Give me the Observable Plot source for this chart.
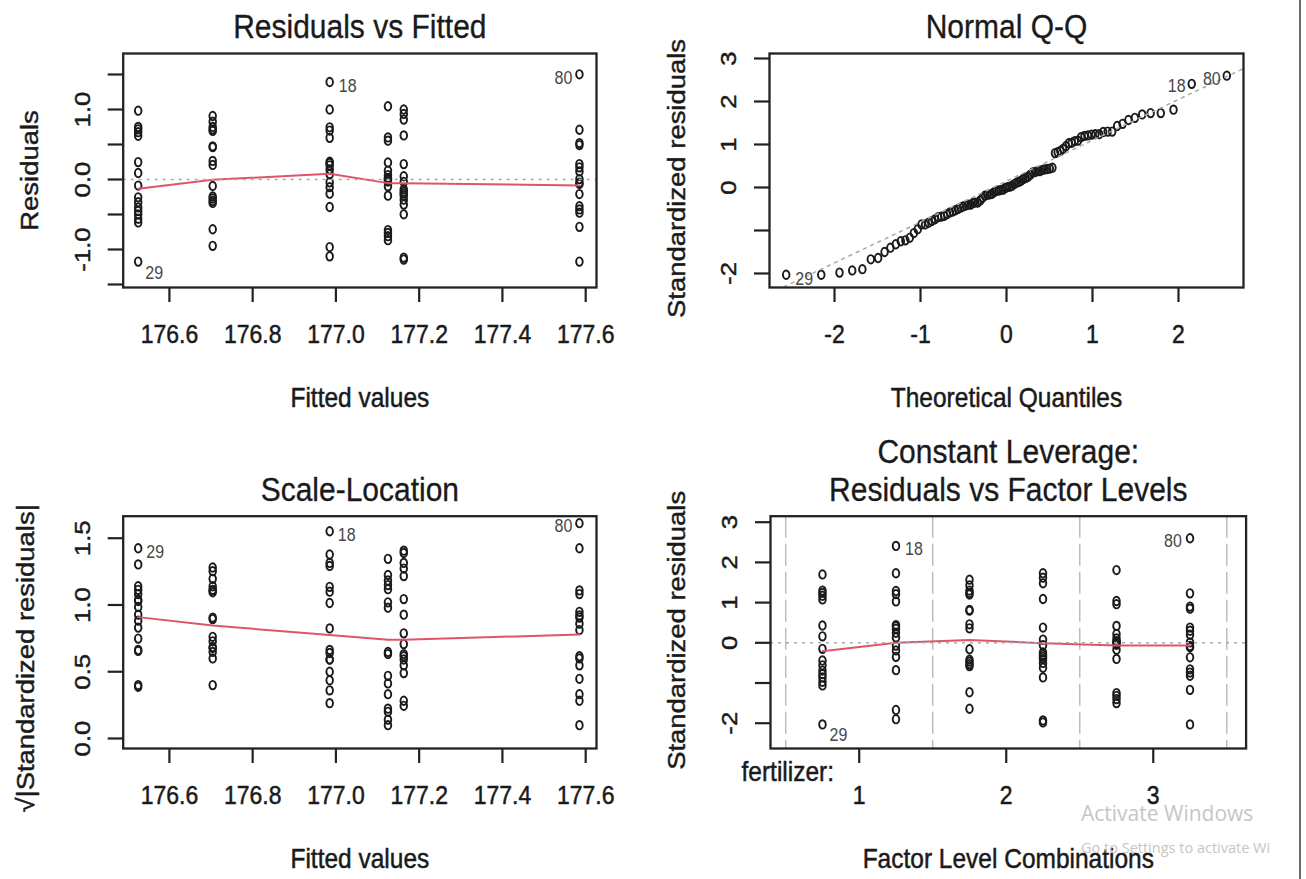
<!DOCTYPE html>
<html>
<head>
<meta charset="utf-8">
<script src="https://cdn.jsdelivr.net/npm/d3@7"></script>
<script src="https://cdn.jsdelivr.net/npm/@observablehq/plot@0.6"></script>
<style>
  html, body { margin: 0; padding: 0; background: #fff; }
  #root { position: relative; width: 1306px; height: 879px; overflow: hidden; background: #fff;
          font-family: "Liberation Sans", Arial, Helvetica, sans-serif; }
  .panel { position: absolute; }
  .panel svg { max-width: none !important; }
  .wm1 { position: absolute; left: 1081px; top: 799px; font-family: "Open Sans", "Noto Sans", sans-serif;
         font-size: 21px; color: #c6c6c6; white-space: nowrap; }
  .wm2 { position: absolute; left: 1081px; top: 838px; font-family: "Open Sans", "Noto Sans", sans-serif;
         font-size: 14.5px; color: #c6c6c6; white-space: nowrap; }
  .edge { position: absolute; left: 1299px; top: 0; width: 2px; height: 879px; background: #6a6a6a; }
</style>
</head>
<body>
<div id="root"></div>
<script>
// ---------------- data ----------------
// factor level combinations, in plotting order: fertilizer 1..3 x two density levels
const fertilizerLevels = ["1", "2", "3"];
const comboIndex = [0, 1, 2, 3, 4, 5];
const comboFitted = [176.525, 176.985, 176.704, 177.163, 177.125, 177.585];

// standardized residuals for each combination (16 observations each)
const stdResid1 = [1.70, 1.30, 1.24, 1.17, 1.08, 0.43, 0.16, -0.15, -0.44, -0.56, -0.69, -0.78, -0.86, -0.97, -1.06, -2.03];
const stdResid2 = [2.41, 1.73, 1.29, 1.21, 1.03, 0.44, 0.41, 0.35, 0.25, 0.13, -0.07, -0.19, -0.35, -0.68, -1.67, -1.90];
const stdResid3 = [1.57, 1.43, 1.30, 1.24, 1.20, 0.82, 0.80, 0.46, 0.36, -0.16, -0.42, -0.47, -0.53, -0.58, -1.23, -1.64];
const stdResid4 = [1.73, 1.62, 1.48, 1.09, 0.38, 0.08, -0.06, -0.24, -0.30, -0.35, -0.40, -0.50, -0.62, -0.86, -1.93, -1.98];
const stdResid5 = [1.81, 1.04, 0.96, 0.42, 0.22, 0.11, 0.04, 0.02, -0.01, -0.05, -0.17, -0.40, -1.25, -1.32, -1.40, -1.50];
const stdResid6 = [2.60, 1.23, 0.90, 0.85, 0.38, 0.30, 0.20, -0.08, 0.01, -0.11, -0.36, -0.66, -0.74, -0.82, -1.17, -2.03];

// raw residual per unit of standardized residual (constant leverage)
const residPerStd = 0.578;

// labelled observations
const idNames = ["29", "18", "80"];
const idCombo = [0, 1, 5];
const idStd = [-2.03, 2.41, 2.60];

// red smoothers
const smoothFitted = [176.525, 176.704, 176.985, 177.125, 177.163, 177.585];
const smoothResid = [-0.133, -0.005, 0.081, -0.052, -0.052, -0.086];
const smoothSqrt = [0.909, 0.846, 0.775, 0.739, 0.739, 0.779];
const smoothLevel = [-0.21, 0.0, 0.07, -0.01, -0.07, -0.07];

// normal Q-Q: theoretical quantiles and reference line
const qqTheoretical = [-2.562, -2.154, -1.942, -1.794, -1.676, -1.578, -1.493, -1.418, -1.350, -1.287, -1.229, -1.176,
  -1.125, -1.077, -1.032, -0.988, -0.947, -0.907, -0.868, -0.831, -0.794, -0.759, -0.725, -0.691, -0.658, -0.626,
  -0.595, -0.564, -0.534, -0.504, -0.474, -0.445, -0.417, -0.389, -0.361, -0.333, -0.305, -0.278, -0.251, -0.224,
  -0.197, -0.171, -0.144, -0.118, -0.092, -0.065, -0.039, -0.013, 0.013, 0.039, 0.065, 0.092, 0.118, 0.144, 0.171,
  0.197, 0.224, 0.251, 0.278, 0.305, 0.333, 0.361, 0.389, 0.417, 0.445, 0.474, 0.504, 0.534, 0.564, 0.595, 0.626,
  0.658, 0.691, 0.725, 0.759, 0.794, 0.831, 0.868, 0.907, 0.947, 0.988, 1.032, 1.077, 1.125, 1.176, 1.229, 1.287,
  1.350, 1.418, 1.493, 1.578, 1.676, 1.794, 1.942, 2.154, 2.562];
const qqLineIntercept = 0.147;
const qqLineSlope = 0.95;

// axes
const fittedTicks = [176.6, 176.8, 177.0, 177.2, 177.4, 177.6];
const fittedDomain = [176.489, 177.626];
const residTicks = [-1.5, -1.0, -0.5, 0, 0.5, 1.0, 1.5];
const residTickLabels = [-1.0, 0.0, 1.0];
const residDomain = [-1.543, 1.80];
const quantTicks = [-2, -1, 0, 1, 2];
const quantDomain = [-2.756, 2.756];
const stdTicks = [-2, -1, 0, 1, 2, 3];
const stdTickLabels = [-2, 0, 1, 2, 3];
const qqStdDomain = [-2.326, 3.116];
const sqrtTicks = [0, 0.5, 1.0, 1.5];
const sqrtDomain = [-0.075, 1.665];
const levelTicks = [0.5, 2.5, 4.5];
const levelSeparators = [-0.5, 1.5, 3.5, 5.5];
const levelDomain = [-0.707, 5.763];
const levelStdDomain = [-2.629, 3.149];

// ---------------- derived tables ----------------
const stdGroups = [stdResid1, stdResid2, stdResid3, stdResid4, stdResid5, stdResid6];
const obs = stdGroups.flatMap((g, k) => g.map(s => ({
  combo: comboIndex[k], fitted: comboFitted[k], std: s,
  resid: s * residPerStd, rootStd: Math.sqrt(Math.abs(s))
})));
const qqSample = stdGroups.flat().slice().sort(d3.ascending);
const qqRows = qqTheoretical.map((q, i) => ({q, s: qqSample[i]}));
const qqLine = quantDomain.map(q => ({q, s: qqLineIntercept + qqLineSlope * q}));
const ids = idNames.map((name, i) => ({
  name, combo: idCombo[i], fitted: comboFitted[idCombo[i]], std: idStd[i],
  resid: idStd[i] * residPerStd, rootStd: Math.sqrt(Math.abs(idStd[i])),
  q: qqTheoretical[qqSample.indexOf(idStd[i])]
}));
const smooth1 = smoothFitted.map((x, i) => ({x, y: smoothResid[i]}));
const smooth3 = smoothFitted.map((x, i) => ({x, y: smoothSqrt[i]}));
const smooth4 = comboIndex.map((x, i) => ({x, y: smoothLevel[i]}));

// ---------------- styling ----------------
const FONT = '"Liberation Sans", Arial, Helvetica, sans-serif';
const INK = "#1a1a1a", BOX = "#222", RED = "#DF536B", GRAY = "#aaaaaa", IDC = "#474747";
const ellipse = {
  draw(context, size) {
    const r = Math.sqrt(size / Math.PI);
    const rx = r * 0.82, ry = r * 1.05, k = 0.5523;
    context.moveTo(rx, 0);
    context.bezierCurveTo(rx, k * ry, k * rx, ry, 0, ry);
    context.bezierCurveTo(-k * rx, ry, -rx, k * ry, -rx, 0);
    context.bezierCurveTo(-rx, -k * ry, -k * rx, -ry, 0, -ry);
    context.bezierCurveTo(k * rx, -ry, rx, -k * ry, rx, 0);
    context.closePath();
  }
};
const dotOpts = {symbol: ellipse, r: 4.0, fill: "none", stroke: INK, strokeWidth: 1.9};
const C = {textAnchor: "middle", lineAnchor: "middle", fill: INK, stroke: INK, strokeWidth: 0.45};

function idMarks(xKey, yKey, offsets) {
  return ids.map((d, i) => Plot.text([d], {
    x: xKey, y: yKey, text: "name", dx: offsets[i][0], dy: offsets[i][1],
    fontSize: 16, fill: IDC, textAnchor: "middle", lineAnchor: "middle"
  }));
}
function frameAndAxes(xTicks, yTicks) {
  return [
    Plot.frame({stroke: BOX, strokeWidth: 2.3}),
    Plot.axisX(xTicks, {anchor: "bottom", tickSize: 15, stroke: BOX, strokeWidth: 2.2, tickFormat: () => "", label: null}),
    Plot.axisY(yTicks, {anchor: "left", tickSize: 15, stroke: BOX, strokeWidth: 2.2, tickFormat: () => "", label: null})
  ];
}
function texts({title, titleDy, title2, xlab, ylab, ylabDx, ylabDy = 0, xTickVals, xTickText, yTickVals, yTickText}) {
  const m = [
    Plot.text(xTickVals, {x: d => d, text: xTickText, frameAnchor: "bottom", dy: 47, fontSize: 23, ...C}),
    Plot.text(yTickVals, {y: d => d, text: yTickText, frameAnchor: "left", dx: -41, rotate: -90, fontSize: 23, ...C}),
    Plot.text([xlab], {frameAnchor: "bottom", dy: 111, fontSize: 24.5, ...C}),
    Plot.text([ylab], {frameAnchor: "left", dx: ylabDx, dy: ylabDy, rotate: -90, fontSize: 24.5, ...C}),
    Plot.text([title], {frameAnchor: "top", dy: titleDy, fontSize: 30, ...C, strokeWidth: 0.3})
  ];
  if (title2) m.push(Plot.text([title2], {frameAnchor: "top", dy: titleDy - 38, fontSize: 30, ...C, strokeWidth: 0.3}));
  return m;
}
const baseStyle = {fontFamily: FONT, background: "transparent", overflow: "visible"};

// the reference's lettering is slightly taller than wide: stretch each text along the page's vertical
function stretchTexts(svg, s) {
  svg.querySelectorAll("text").forEach(t => {
    const tr = t.getAttribute("transform");
    if (!tr) return;
    t.setAttribute("transform", /rotate\(/.test(tr) ? `${tr} scale(${s},1)` : `${tr} scale(1,${s})`);
  });
}
function mount(svg, left, top, w, h) {
  stretchTexts(svg, 1.12);
  const div = document.createElement("div");
  div.className = "panel";
  div.style.left = left + "px"; div.style.top = top + "px";
  div.style.width = w + "px"; div.style.height = h + "px";
  div.appendChild(svg);
  document.getElementById("root").appendChild(div);
}

// ---------------- panel 1: Residuals vs Fitted ----------------
const p1 = Plot.plot({
  width: 653, height: 440,
  marginLeft: 122.7, marginRight: 57, marginTop: 53, marginBottom: 153,
  x: {domain: fittedDomain}, y: {domain: residDomain},
  style: baseStyle,
  marks: [
    Plot.dot(obs, {x: "fitted", y: "resid", ...dotOpts}),
    Plot.line(smooth1, {x: "x", y: "y", stroke: RED, strokeWidth: 2}),
    Plot.ruleY([0], {stroke: GRAY, strokeWidth: 1.5, strokeDasharray: "3,5"}),
    ...idMarks("fitted", "resid", [[16, 12], [18, 4], [-16, 4]]),
    ...frameAndAxes(fittedTicks, residTicks),
    ...texts({title: "Residuals vs Fitted", titleDy: -26, xlab: "Fitted values", ylab: "Residuals", ylabDx: -93,
      xTickVals: fittedTicks, xTickText: d => d.toFixed(1), yTickVals: residTickLabels, yTickText: d => d.toFixed(1)})
  ]
});
mount(p1, 0, 0, 653, 440);

// ---------------- panel 2: Normal Q-Q ----------------
const p2 = Plot.plot({
  width: 653, height: 440,
  marginLeft: 116, marginRight: 63, marginTop: 53, marginBottom: 153,
  x: {domain: quantDomain}, y: {domain: qqStdDomain},
  style: baseStyle,
  marks: [
    Plot.dot(qqRows, {x: "q", y: "s", ...dotOpts}),
    Plot.line(qqLine, {x: "q", y: "s", stroke: GRAY, strokeWidth: 1.5, strokeDasharray: "3,5", clip: true}),
    ...idMarks("q", "std", [[18, 4], [-15, 2], [-15, 4]]),
    ...frameAndAxes(quantTicks, stdTicks),
    ...texts({title: "Normal Q-Q", titleDy: -26, xlab: "Theoretical Quantiles", ylab: "Standardized residuals", ylabDx: -92, ylabDy: 8,
      xTickVals: quantTicks, xTickText: d => String(d), yTickVals: stdTickLabels, yTickText: d => String(d)})
  ]
});
mount(p2, 653, 0, 653, 440);

// ---------------- panel 3: Scale-Location ----------------
const p3 = Plot.plot({
  width: 653, height: 439,
  marginLeft: 122.7, marginRight: 57, marginTop: 75.7, marginBottom: 131,
  x: {domain: fittedDomain}, y: {domain: sqrtDomain},
  style: baseStyle,
  marks: [
    Plot.dot(obs, {x: "fitted", y: "rootStd", ...dotOpts}),
    Plot.line(smooth3, {x: "x", y: "y", stroke: RED, strokeWidth: 2}),
    ...idMarks("fitted", "rootStd", [[17, 4], [17, 4], [-16, 3]]),
    ...frameAndAxes(fittedTicks, sqrtTicks),
    ...texts({title: "Scale-Location", titleDy: -26, xlab: "Fitted values", ylab: "\u221A|Standardized residuals|", ylabDx: -97, ylabDy: 26,
      xTickVals: fittedTicks, xTickText: d => d.toFixed(1), yTickVals: sqrtTicks, yTickText: d => d.toFixed(1)})
  ]
});
mount(p3, 0, 440, 653, 439);

// ---------------- panel 4: Constant Leverage ----------------
const p4 = Plot.plot({
  width: 653, height: 439,
  marginLeft: 117, marginRight: 60.4, marginTop: 75.7, marginBottom: 131,
  x: {domain: levelDomain}, y: {domain: levelStdDomain},
  style: baseStyle,
  marks: [
    Plot.ruleX(levelSeparators, {stroke: "#bdbdbd", strokeWidth: 1.5, strokeDasharray: "22,6"}),
    Plot.dot(obs, {x: "combo", y: "std", ...dotOpts}),
    Plot.line(smooth4, {x: "x", y: "y", stroke: RED, strokeWidth: 2}),
    Plot.ruleY([0], {stroke: GRAY, strokeWidth: 1.5, strokeDasharray: "3,5"}),
    ...idMarks("combo", "std", [[16, 11], [18, 3], [-17, 3]]),
    ...frameAndAxes(levelTicks, stdTicks),
    ...texts({title: "Residuals vs Factor Levels", titleDy: -26, title2: "Constant Leverage:",
      xlab: "Factor Level Combinations", ylab: "Standardized residuals", ylabDx: -93, ylabDy: -2,
      xTickVals: levelTicks, xTickText: (d, i) => fertilizerLevels[i], yTickVals: stdTickLabels, yTickText: d => String(d)}),
    Plot.text(["fertilizer:"], {frameAnchor: "bottom-left", textAnchor: "start", lineAnchor: "middle", dx: -29, dy: 24,
      fontSize: 24.5, fill: INK, stroke: INK, strokeWidth: 0.45})
  ]
});
mount(p4, 653, 440, 653, 439);

// screenshot artefacts visible in the reference
const root = document.getElementById("root");
root.insertAdjacentHTML("beforeend",
  '<div class="edge"></div><div class="wm1">Activate Windows</div><div class="wm2">Go to Settings to activate Wi</div>');
</script>
</body>
</html>
